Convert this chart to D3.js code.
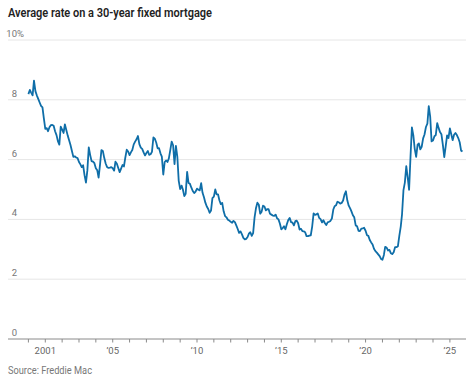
<!DOCTYPE html>
<html>
<head>
<meta charset="utf-8">
<script src="https://cdn.jsdelivr.net/npm/d3@7"></script>
<style>
  body { margin: 0; background: #fff; }
  svg text { font-family: Roboto, "Noto Sans", sans-serif; }
</style>
</head>
<body>
<div id="chart"></div>
<script>
// Freddie Mac 30-year fixed rate, one value per month
const startYear = 2000;
const monthlyRates = [
  8.19, 8.33, 8.24, 8.15, 8.64, 8.29, 8.15, 8.03, 7.91, 7.80, 7.75, 7.38, // 2000
  7.03, 7.05, 6.95, 7.08, 7.15, 7.16, 7.13, 6.95, 6.82, 6.62, 6.50, 7.10, // 2001
  7.00, 6.89, 7.18, 6.99, 6.81, 6.65, 6.49, 6.29, 6.09, 6.11, 6.07, 6.05, // 2002
  5.92, 5.84, 5.75, 5.81, 5.48, 5.23, 5.63, 6.41, 6.15, 5.95, 5.93, 5.88, // 2003
  5.71, 5.64, 5.40, 5.83, 6.32, 6.29, 6.06, 5.87, 5.75, 5.72, 5.73, 5.75, // 2004
  5.71, 5.63, 5.93, 5.86, 5.72, 5.58, 5.70, 5.82, 5.77, 6.07, 6.33, 6.27, // 2005
  6.15, 6.25, 6.32, 6.51, 6.60, 6.68, 6.79, 6.52, 6.40, 6.36, 6.24, 6.14, // 2006
  6.22, 6.29, 6.16, 6.18, 6.26, 6.74, 6.70, 6.57, 6.38, 6.38, 6.21, 6.10, // 2007
  5.50, 5.92, 5.97, 5.92, 6.04, 6.32, 6.60, 6.48, 5.85, 6.46, 6.09, 5.29, // 2008
  5.01, 5.13, 5.00, 4.78, 4.86, 5.59, 5.22, 5.19, 5.06, 4.95, 4.88, 4.93, // 2009
  5.03, 4.99, 4.97, 5.21, 4.89, 4.74, 4.56, 4.43, 4.35, 4.22, 4.30, 4.71, // 2010
  4.76, 5.00, 4.84, 4.84, 4.64, 4.51, 4.55, 4.27, 4.11, 4.07, 3.99, 3.96, // 2011
  3.92, 3.89, 3.95, 3.91, 3.80, 3.68, 3.55, 3.60, 3.50, 3.38, 3.33, 3.35, // 2012
  3.41, 3.53, 3.57, 3.45, 3.54, 4.07, 4.37, 4.56, 4.49, 4.19, 4.26, 4.46, // 2013
  4.43, 4.30, 4.34, 4.34, 4.19, 4.16, 4.13, 4.12, 4.16, 4.04, 4.00, 3.86, // 2014
  3.67, 3.71, 3.77, 3.67, 3.84, 3.98, 4.05, 3.91, 3.89, 3.80, 3.94, 3.96, // 2015
  3.87, 3.66, 3.69, 3.61, 3.60, 3.57, 3.44, 3.44, 3.46, 3.47, 3.77, 4.20, // 2016
  4.15, 4.17, 4.20, 4.05, 4.01, 3.90, 3.97, 3.88, 3.81, 3.90, 3.92, 3.95, // 2017
  4.03, 4.33, 4.44, 4.47, 4.59, 4.57, 4.53, 4.55, 4.63, 4.83, 4.94, 4.64, // 2018
  4.46, 4.37, 4.27, 4.14, 4.07, 3.80, 3.77, 3.62, 3.61, 3.69, 3.70, 3.72, // 2019
  3.62, 3.47, 3.45, 3.31, 3.23, 3.16, 3.02, 2.94, 2.89, 2.83, 2.77, 2.68, // 2020
  2.65, 2.81, 3.08, 3.06, 2.96, 2.98, 2.87, 2.84, 2.90, 3.07, 3.07, 3.10, // 2021
  3.45, 3.76, 4.17, 4.98, 5.23, 5.78, 5.41, 4.99, 6.11, 7.08, 6.81, 6.36, // 2022
  6.09, 6.50, 6.54, 6.34, 6.43, 6.71, 6.84, 7.09, 7.20, 7.79, 7.44, 6.61, // 2023
  6.64, 6.78, 6.82, 7.22, 7.06, 6.92, 6.85, 6.50, 6.08, 6.43, 6.81, 6.72, // 2024
  7.04, 6.84, 6.65, 6.83, 6.89, 6.82, 6.72, 6.58, 6.30, 6.27              // 2025
];

const yTicks = [0, 2, 4, 6, 8, 10];
const tickYears = d3.range(2000, 2026);
const labelYears = [2001, 2005, 2010, 2015, 2020, 2025];
const labelText = ['2001', '\u201905', '\u201910', '\u201915', '\u201920', '\u201925'];

const width = 474, height = 382;
const left = 8, right = 466;

const data = monthlyRates.map((v, i) => ({
  date: new Date(startYear + Math.floor(i / 12), i % 12, 1),
  value: v
}));

const svg = d3.select('#chart').append('svg')
  .attr('width', width)
  .attr('height', height);

// x scale: Jan 2000 sits at 28.4px, 16.86px per year
const x = d3.scaleTime()
  .domain([new Date(2000, 0, 1), new Date(2025, 0, 1)])
  .range([28.4, 28.4 + 25 * 16.86]);

const y = d3.scaleLinear()
  .domain([0, 10])
  .range([339, 40]);

// title (squeezed to the width of the narrow original face)
svg.append('text')
  .attr('x', 8)
  .attr('y', 17)
  .attr('font-size', 12.5)
  .attr('font-weight', 600)
  .attr('fill', '#222')
  .attr('textLength', 204)
  .attr('lengthAdjust', 'spacingAndGlyphs')
  .text('Average rate on a 30-year fixed mortgage');

// gridlines
svg.append('g')
  .selectAll('line')
  .data(yTicks.filter(d => d > 0))
  .join('line')
  .attr('x1', left).attr('x2', right)
  .attr('y1', d => y(d)).attr('y2', d => y(d))
  .attr('stroke', '#e6e6e6')
  .attr('stroke-width', 1);

// y labels, numbers right aligned, % hangs on the top one
const yLab = svg.append('g')
  .attr('font-size', 9.5)
  .attr('fill', '#777');

yLab.selectAll('text.num')
  .data(yTicks)
  .join('text')
  .classed('num', true)
  .attr('x', 17)
  .attr('y', d => y(d) - 3)
  .attr('text-anchor', 'end')
  .text(d => d);

yLab.append('text')
  .attr('x', 17)
  .attr('y', y(10) - 3)
  .text('%');

// baseline axis
svg.append('line')
  .attr('x1', left).attr('x2', right)
  .attr('y1', y(0)).attr('y2', y(0))
  .attr('stroke', '#8a8a8a')
  .attr('stroke-width', 1);

svg.append('g')
  .selectAll('line')
  .data(tickYears)
  .join('line')
  .attr('x1', d => x(new Date(d, 0, 1)))
  .attr('x2', d => x(new Date(d, 0, 1)))
  .attr('y1', y(0))
  .attr('y2', y(0) + 3.5)
  .attr('stroke', '#8a8a8a')
  .attr('stroke-width', 1);

svg.append('g')
  .attr('font-size', 9.5)
  .attr('fill', '#666')
  .attr('text-anchor', 'middle')
  .selectAll('text')
  .data(labelYears)
  .join('text')
  .attr('x', d => x(new Date(d, 0, 1)))
  .attr('y', 354)
  .text((d, i) => labelText[i]);

// the rate line
const line = d3.line()
  .x(d => x(d.date))
  .y(d => y(d.value));

svg.append('path')
  .datum(data)
  .attr('d', line)
  .attr('fill', 'none')
  .attr('stroke', '#0f6ea8')
  .attr('stroke-width', 1.8)
  .attr('stroke-linejoin', 'round');

// source
svg.append('text')
  .attr('x', 8)
  .attr('y', 374)
  .attr('font-size', 10)
  .attr('fill', '#777')
  .attr('textLength', 84)
  .attr('lengthAdjust', 'spacingAndGlyphs')
  .text('Source: Freddie Mac');
</script>
</body>
</html>
